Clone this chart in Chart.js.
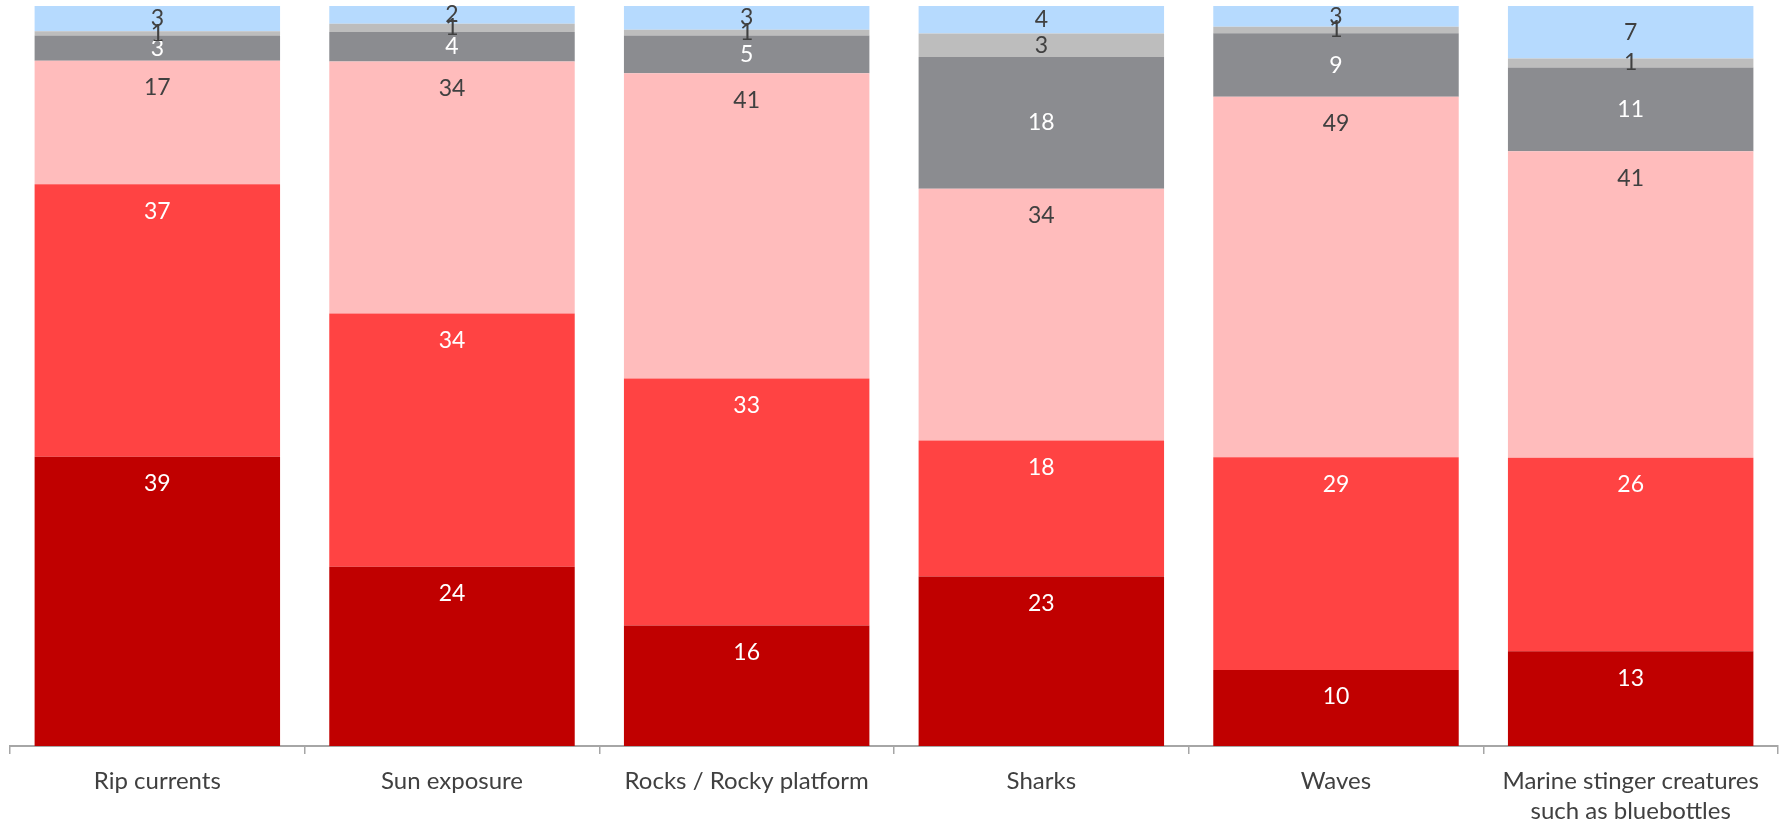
<!DOCTYPE html>
<html>
<head>
<meta charset="utf-8">
<script src="https://cdn.jsdelivr.net/npm/chart.js@4.4.1/dist/chart.umd.min.js"></script>
<style>
  html, body { margin: 0; padding: 0; background: #ffffff; }
  #wrap { width: 1781px; height: 827px; position: relative; }
</style>
</head>
<body>
<div id="wrap"><canvas id="c"></canvas></div>
<script>
const categories = ["Rip currents", "Sun exposure", "Rocks / Rocky platform", "Sharks", "Waves", ["Marine stinger creatures", "such as bluebottles"]];
// values (labels shown rounded)
const series1 = [39.1, 24.2, 16.3, 22.9, 10.3, 12.8];
const series2 = [36.8, 34.2, 33.4, 18.4, 28.8, 26.1];
const series3 = [16.7, 34.0, 41.3, 34.0, 48.8, 41.4];
const series4 = [3.4, 4.0, 5.1, 17.8, 8.6, 11.3];
const series5 = [0.6, 1.1, 0.8, 3.2, 0.9, 1.2];
const series6 = [3.4, 2.4, 3.2, 3.7, 2.8, 7.1];

const allSeries = [series1, series2, series3, series4, series5, series6];
const colors = ["#C00000", "#FF4343", "#FFBCBC", "#8B8C90", "#BDBDBD", "#B6DAFE"];
const labelColors = ["#FFFFFF", "#FFFFFF", "#404040", "#FFFFFF", "#404040", "#404040"];
const insideEnd = [true, true, true, false, false, false];

// 100% stacked: each category normalised by its total
const totals = categories.map((_, j) => allSeries.reduce((s, arr) => s + arr[j], 0));

const datasets = allSeries.map((arr, i) => ({
  label: "Series " + (i + 1),
  data: arr.map((v, j) => v / totals[j] * 100),
  raw: arr,
  backgroundColor: colors[i],
  borderWidth: 0,
  barPercentage: 0.833,
  categoryPercentage: 1.0
}));

const FONT = "Lato, 'Open Sans', sans-serif";

const labelPlugin = {
  id: 'segLabels',
  afterDatasetsDraw(chart) {
    const ctx = chart.ctx;
    ctx.save();
    ctx.font = "23px " + FONT;
    ctx.textAlign = "center";
    ctx.textBaseline = "middle";
    chart.data.datasets.forEach((ds, i) => {
      const meta = chart.getDatasetMeta(i);
      meta.data.forEach((el, j) => {
        const top = el.y, base = el.base;
        const y = insideEnd[i] ? top + 27 : (top + base) / 2;
        ctx.fillStyle = labelColors[i];
        ctx.fillText(String(Math.round(ds.raw[j])), el.x, y);
      });
    });
    ctx.restore();
  }
};

new Chart(document.getElementById('c'), {
  type: 'bar',
  data: { labels: categories, datasets: datasets },
  options: {
    responsive: true,
    maintainAspectRatio: false,
    animation: false,
    layout: { padding: { left: 10, right: 3, top: 6, bottom: 0 } },
    plugins: { legend: { display: false }, tooltip: { enabled: false } },
    scales: {
      x: {
        stacked: true,
        afterFit(scale) { scale.height = 81; },
        grid: {
          display: true,
          offset: true,
          drawOnChartArea: false,
          drawTicks: true,
          tickLength: 8,
          color: "#A6A6A6",
          lineWidth: 1.5
        },
        border: { display: true, color: "#A6A6A6", width: 2 },
        ticks: {
          color: "#404040",
          padding: 12,
          maxRotation: 0,
          autoSkip: false,
          font: { family: FONT, size: 24, lineHeight: '30px' }
        }
      },
      y: {
        stacked: true,
        display: false,
        min: 0,
        max: 100
      }
    }
  },
  plugins: [labelPlugin]
});
</script>
</body>
</html>
